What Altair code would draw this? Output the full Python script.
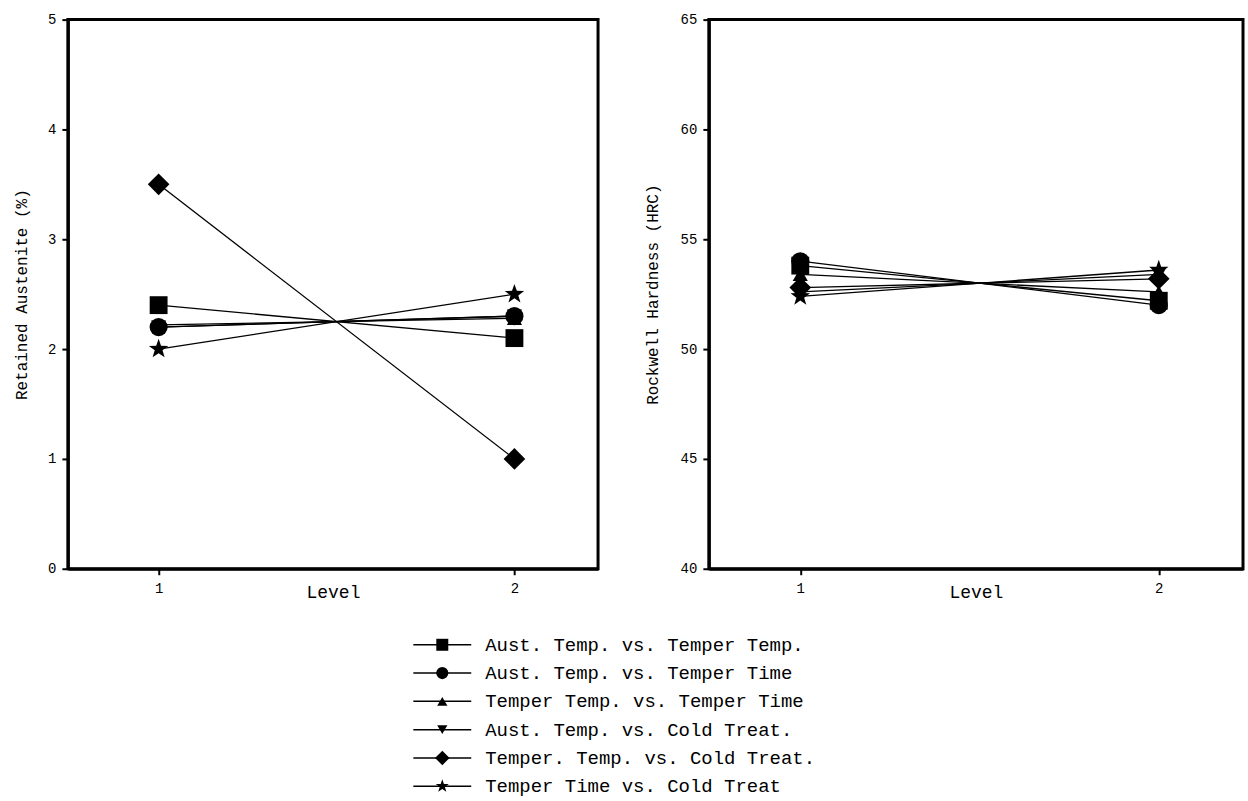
import altair as alt
import pandas as pd

FONT = "Liberation Mono"

levels = [1, 2]
series = [
    "Aust. Temp. vs. Temper Temp.",
    "Aust. Temp. vs. Temper Time",
    "Temper Temp. vs. Temper Time",
    "Aust. Temp. vs. Cold Treat.",
    "Temper. Temp. vs. Cold Treat.",
    "Temper Time vs. Cold Treat",
]
STAR = ("M0,-1 L0.235,-0.324 L0.951,-0.309 L0.38,0.124 L0.588,0.809 L0,0.4 "
        "L-0.588,0.809 L-0.38,0.124 L-0.951,-0.309 L-0.235,-0.324 Z")
shapes = ["square", "circle", "triangle-up", "triangle-down", "diamond", STAR]
marker_sizes = [320, 330, 230, 230, 470, 420]

# Retained austenite (%) at level 1 and level 2
ra_level1 = [2.4, 2.2, 2.22, 2.2, 3.5, 2.0]
ra_level2 = [2.1, 2.3, 2.28, 2.3, 1.0, 2.5]
# Rockwell hardness (HRC) at level 1 and level 2
hrc_level1 = [53.8, 54.0, 53.4, 52.6, 52.8, 52.4]
hrc_level2 = [52.2, 52.0, 52.6, 53.4, 53.2, 53.6]

ra_ticks = [0, 1, 2, 3, 4, 5]
hrc_ticks = [40, 45, 50, 55, 60, 65]

rows = []
for i, s in enumerate(series):
    rows.append(dict(series=s, order=i, level=1, ra=ra_level1[i], hrc=hrc_level1[i], sz=marker_sizes[i]))
    rows.append(dict(series=s, order=i, level=2, ra=ra_level2[i], hrc=hrc_level2[i], sz=marker_sizes[i]))
df = pd.DataFrame(rows)

shape_scale = alt.Scale(domain=series, range=shapes)


def panel(field, title, domain, ticks, width, title_pad):
    base = alt.Chart(df)
    x = alt.X("level:Q", scale=alt.Scale(domain=[0.745, 2.235], nice=False, zero=False),
              axis=alt.Axis(values=levels, title="Level", format="d", labelPadding=7,
                            titleY=29, titleBaseline="alphabetic", titleFontSize=18))
    y = alt.Y(f"{field}:Q", scale=alt.Scale(domain=domain, nice=False, zero=False),
              axis=alt.Axis(values=ticks, title=title, labelPadding=6, titlePadding=title_pad,
                            titleFontSize=16))
    lines = base.mark_line(color="black", strokeWidth=1.3).encode(
        x=x, y=y, detail="series:N", order="level:Q")
    pts = base.mark_point(filled=True, color="black", opacity=1).encode(
        x=x, y=y,
        shape=alt.Shape("series:N", scale=shape_scale, legend=None),
        size=alt.Size("sz:Q", scale=None),
    )
    return alt.layer(lines, pts).properties(width=width, height=550)


left = panel("ra", "Retained Austenite (%)", [0, 5], ra_ticks, 531, 18)
right = panel("hrc", "Rockwell Hardness (HRC)", [40, 65], hrc_ticks, 535, 20)

leg = pd.DataFrame({"series": series, "order": list(range(6)),
                    "sz": [s * 0.45 for s in marker_sizes]})
LX0 = 346
lbase = alt.Chart(leg).encode(
    y=alt.Y("order:O", axis=None, scale=alt.Scale(type="point", padding=0.5)))
lrule = lbase.mark_rule(color="black", strokeWidth=1.5).encode(
    x=alt.value(LX0), x2=alt.value(LX0 + 58))
lpt = lbase.mark_point(filled=True, color="black", opacity=1).encode(
    x=alt.value(LX0 + 29),
    shape=alt.Shape("series:N", scale=shape_scale, legend=None),
    size=alt.Size("sz:Q", scale=None))
ltxt = lbase.mark_text(align="left", baseline="middle", font=FONT, fontSize=19, color="black").encode(
    x=alt.value(LX0 + 72), text="series:N")
legend = alt.layer(lrule, lpt, ltxt).properties(
    width=1180, height=170, view=alt.ViewConfig(stroke="transparent"))

top = alt.hconcat(left, right, spacing=42)
chart = alt.vconcat(top, legend, spacing=25).properties(
    padding={"left": 12, "top": 10, "right": 0, "bottom": 0},
    background="white",
).configure_view(
    stroke="black", strokeWidth=3
).configure_axis(
    domainColor="black", domainWidth=3, tickColor="black", tickWidth=2, tickSize=6,
    labelFont=FONT, labelFontSize=14, labelColor="black",
    titleFont=FONT, titleFontWeight="normal", titleColor="black", grid=False,
)

chart.save("out.html", embed_options={"renderer": "svg", "actions": False})
